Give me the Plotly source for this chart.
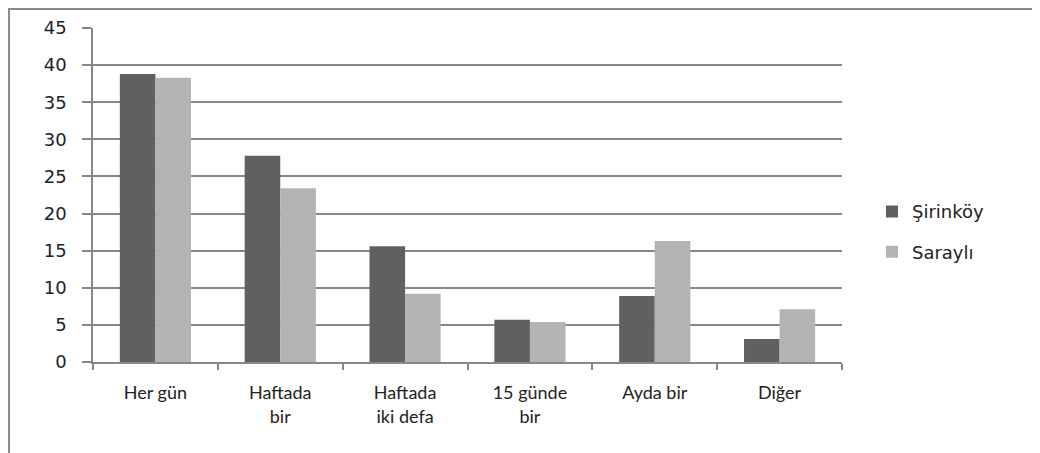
import plotly.graph_objects as go

categories = ["Her gün", "Haftada<br>bir", "Haftada<br>iki defa", "15 günde<br>bir", "Ayda bir", "Diğer"]
sirinkoy = [38.8, 27.8, 15.6, 5.7, 8.9, 3.1]
sarayli = [38.3, 23.4, 9.2, 5.4, 16.3, 7.1]
y_ticks = [0, 5, 10, 15, 20, 25, 30, 35, 40, 45]

grid = "#878787"

fig = go.Figure()
fig.add_trace(go.Bar(x=categories, y=sirinkoy, name="Şirinköy", marker_color="#606060",
                     marker_line_width=0, legendgroup="a"))
fig.add_trace(go.Bar(x=categories, y=sarayli, name="Saraylı", marker_color="#b3b3b3",
                     marker_line_width=0, legendgroup="b"))

fig.update_layout(
    width=1032, height=445,
    margin=dict(l=85, r=198, t=20, b=91),
    paper_bgcolor="white", plot_bgcolor="white",
    barmode="group", bargap=0.43, bargroupgap=0,
    font=dict(family="DejaVu Sans", size=16, color="#222222"),
    legend=dict(x=1.04, y=0.39, xanchor="left", yanchor="middle",
                font=dict(family="DejaVu Sans", size=18, color="#222222"),
                tracegroupgap=14, traceorder="grouped",
                itemwidth=30),
    showlegend=True,
    xaxis=dict(showline=True, linecolor=grid, linewidth=1.5,
               ticks="outside", ticklen=6, tickcolor=grid, tickwidth=1.5,
               tickson="boundaries", showgrid=False, automargin=False,
               tickfont=dict(family="Lato", size=18, color="#222222"),
               ticklabelstandoff=14),
    yaxis=dict(range=[0, 45], tickvals=y_ticks, showline=True, linecolor=grid, linewidth=1.5,
               ticks="outside", ticklen=9, tickcolor=grid, tickwidth=1.5, automargin=False,
               showgrid=True, gridcolor=grid, gridwidth=1.5, zeroline=False,
               tickfont=dict(family="DejaVu Sans", size=18, color="#222222"),
               ticklabelstandoff=12),
    shapes=[dict(type="rect", xref="paper", yref="paper",
                 x0=-0.1121, x1=1.2577, y0=-0.32, y1=1.0569,
                 line=dict(color="#8a8a8a", width=2), fillcolor="rgba(0,0,0,0)", layer="below")],
)

fig.write_html("out.html")
